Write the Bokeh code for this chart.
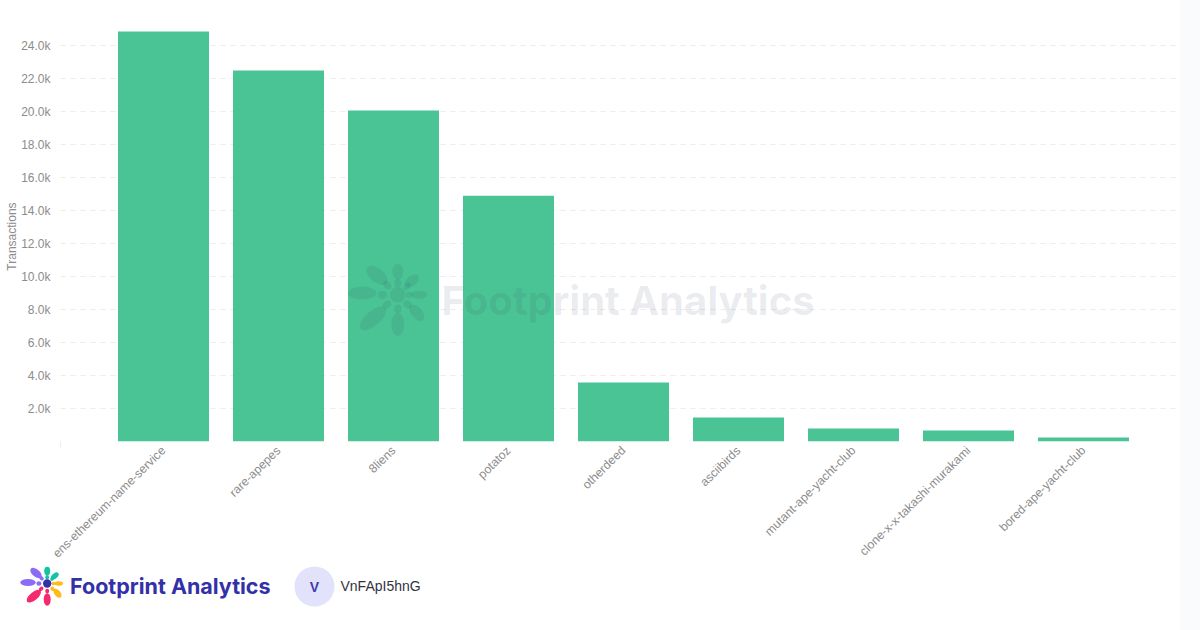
from math import pi
from bokeh.plotting import figure
from bokeh.layouts import column
from bokeh.models import Range1d, FixedTicker, ColumnDataSource
from bokeh.core.properties import value
from bokeh.embed import file_html
from bokeh.resources import INLINE

categories = ["ens-ethereum-name-service", "rare-apepes", "8liens", "potatoz", "otherdeed",
              "asciibirds", "mutant-ape-yacht-club", "clone-x-x-takashi-murakami", "bored-ape-yacht-club"]
transactions = [24850, 22480, 20060, 14900, 3580, 1450, 790, 670, 240]
y_ticks = [0, 2000, 4000, 6000, 8000, 10000, 12000, 14000, 16000, 18000, 20000, 22000, 24000]
y_labels = ["", "2.0k", "4.0k", "6.0k", "8.0k", "10.0k", "12.0k", "14.0k", "16.0k", "18.0k", "20.0k", "22.0k", "24.0k"]

BAR = "#4bc495"
BAND = "#fafbfd"
TXT = "#8c8c8c"
GRID = "#ececec"
FONT = "Liberation Sans"
BRAND = "#3330a8"

# logo petals: dx, dy, length, thickness, screen angle (deg), colour
purple, teal, yellow, pink = "#8b6cf6", "#12c4a4", "#fdbb1c", "#f5296e"
petals = [
    (-19.2, -1, 15.5, 7, 0, purple), (-11.2, -10.5, 13.5, 7.5, 40, purple), (0, -12.5, 8.5, 6, 90, teal),
    (7.6, -7.5, 9, 5.5, -40, teal), (11.6, 0, 8.5, 4.5, 0, yellow), (10.3, 9.7, 10.5, 6, 50, yellow),
    (0, 16, 12.5, 7, 90, pink), (-13.4, 12.7, 17.5, 8, -40, pink),
    (-8.3, 0, 5, 4.5, 0, purple), (-5.7, -5.3, 5, 3.8, 40, purple), (0, -6.3, 4.4, 3.8, 90, teal),
    (5, -4.7, 4.4, 3.4, -45, teal), (6.3, 0, 3.8, 3.4, 0, yellow), (5.3, 5.3, 4.8, 3.8, 45, yellow),
    (0, 7.6, 4.6, 4, 90, pink), (-6, 5.3, 5, 3.8, -40, pink),
]

def draw_logo(fig, cx, cy, scale, color=None, alpha=1.0, center=None, **ranges):
    fig.ellipse(x=[cx + p[0] * scale for p in petals], y=[cy + p[1] * scale for p in petals],
                width=[p[2] * scale for p in petals], height=[p[3] * scale for p in petals],
                angle=[-p[4] for p in petals], angle_units="deg",
                fill_color=[color or p[5] for p in petals], fill_alpha=alpha, line_color=None,
                level="overlay", **ranges)
    fig.circle(x=[cx], y=[cy], radius=4.2 * scale, fill_color=center or color, fill_alpha=alpha,
               line_color=None, level="overlay", **ranges)

# ---- main chart -----
positions = list(range(len(categories)))
x_start, x_end = -0.9 + 0.5 / 115, 8.9 + 0.5 / 115
p = figure(x_range=Range1d(x_start, x_end),
           y_range=Range1d(0, 436 / 16.5 * 1000),
           width=1200, height=600,
           min_border_left=60, min_border_right=13, min_border_top=5, min_border_bottom=159,
           output_backend="svg", toolbar_location=None,
           background_fill_color=None, border_fill_color=None, outline_line_color=None)
p.frame_align = False

src = ColumnDataSource(dict(pos=positions, val=transactions))
p.vbar(x="pos", top="val", width=91 / 115, source=src, fill_color=BAR, line_color=None)

p.xgrid.visible = False
p.ygrid.ticker = FixedTicker(ticks=y_ticks)
p.ygrid.grid_line_color = GRID
p.ygrid.grid_line_dash = "5 5"
p.ygrid.grid_line_width = 1

ya = p.yaxis[0]
ya.ticker = FixedTicker(ticks=y_ticks)
ya.major_label_overrides = dict(zip(y_ticks, y_labels))
ya.axis_line_color = None
ya.major_tick_line_color = None
ya.minor_tick_line_color = None
ya.major_tick_in = 0
ya.major_tick_out = 0
ya.major_label_standoff = 10
ya.major_label_text_font = FONT
ya.major_label_text_font_size = "12px"
ya.major_label_text_color = TXT

xa = p.xaxis[0]
xa.ticker = FixedTicker(ticks=positions, minor_ticks=[x_start])
xa.major_label_overrides = dict(zip(positions, categories))
xa.axis_line_color = None
xa.major_tick_line_color = None
xa.minor_tick_line_color = GRID
xa.minor_tick_in = 0
xa.minor_tick_out = 6
xa.major_label_orientation = 0.777
xa.major_label_standoff = 1
xa.major_label_text_font = FONT
xa.major_label_text_font_size = "12.2px"
xa.major_label_text_color = TXT

# pixel overlay ranges for watermark
p.extra_x_ranges = {"px": Range1d(60, 1187)}
p.extra_y_ranges = {"py": Range1d(441, 5)}
px = dict(x_range_name="px", y_range_name="py")
p.quad(left=[1180], right=[1187], top=[5], bottom=[441], fill_color=BAND, line_color=None, level="overlay", **px)
draw_logo(p, 397.3, 294.3, 1.85, color="#2b3a55", alpha=0.1, **px)
p.text(x=[441], y=[300], text=["Footprint Analytics"], text_font=value("Inter"), text_font_style="bold",
       text_font_size="40px", text_color="#2b3a55", text_alpha=0.1, text_baseline="middle", level="overlay", **px)

# ---- full-page overlay: axis title and footer -----
f = figure(x_range=Range1d(0, 1200), y_range=Range1d(630, 0), width=1200, height=630,
           min_border=0, output_backend="svg", toolbar_location=None,
           background_fill_color=None, border_fill_color=None, outline_line_color=None,
           margin=(-600, 0, 0, 0))
f.frame_align = False
f.axis.visible = False
f.grid.visible = False
f.text(x=[11], y=[236], text=["Transactions"], angle=pi / 2, text_font=value(FONT), text_font_size="12px",
       text_color=TXT, text_align="center", text_baseline="middle")
draw_logo(f, 46.7, 583, 1.0, center="#3330a8")
f.text(x=[69.5], y=[585.5], text=["Footprint Analytics"], text_font=value("Inter"), text_font_style="bold",
       text_font_size="21.5px", text_color=BRAND, text_baseline="middle")
f.circle(x=[314], y=[586], radius=20, fill_color="#e2e2fb", line_color=None)
f.text(x=[314], y=[586], text=["V"], text_font=value(FONT), text_font_style="bold", text_font_size="14px",
       text_color="#3f3bb0", text_align="center", text_baseline="middle")
f.text(x=[340], y=[585], text=["VnFApI5hnG"], text_font=value(FONT), text_font_size="14px",
       text_color="#33333f", text_baseline="middle")

root = column(p, f, spacing=0)
root.styles = {"position": "absolute", "left": "0", "top": "0", "width": "1200px", "height": "630px",
               "background": f"linear-gradient(to right, #ffffff 1180px, {BAND} 1180px)"}

open("out.html", "w").write(file_html(root, INLINE))
